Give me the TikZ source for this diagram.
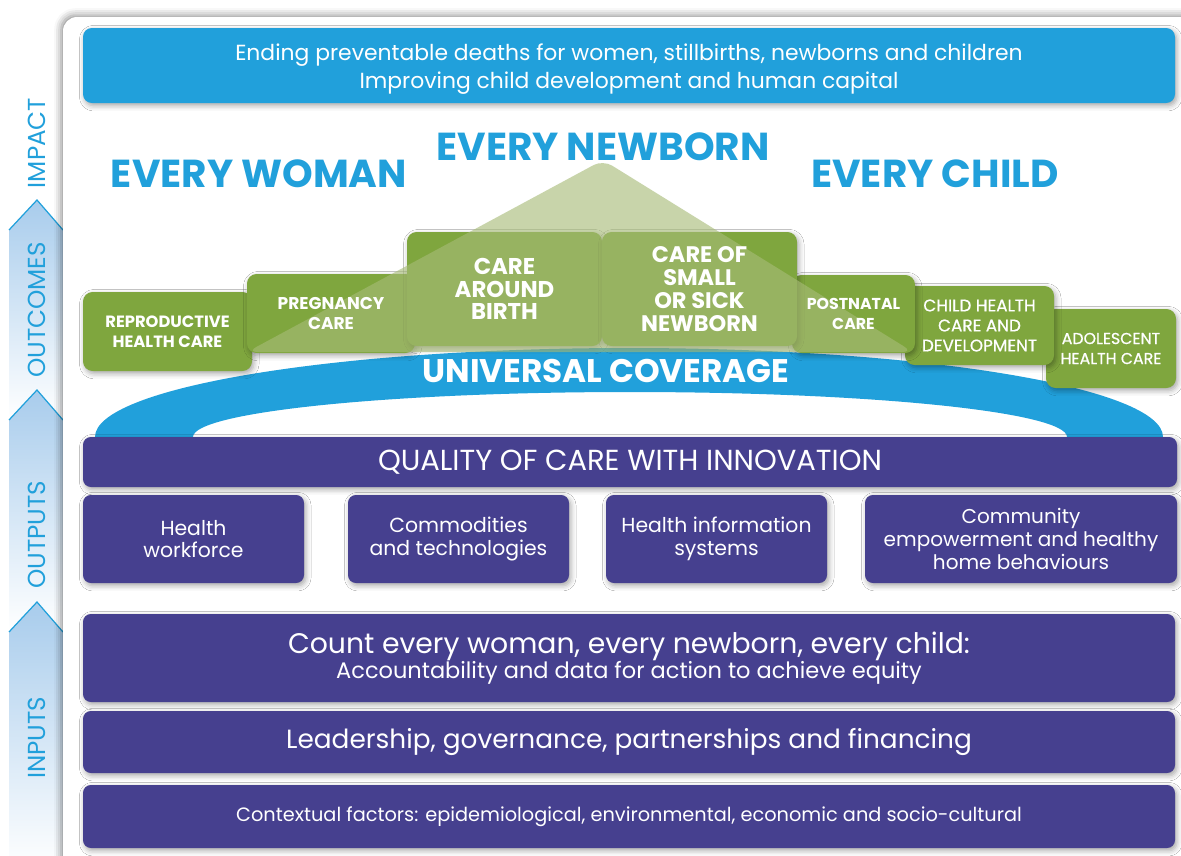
\documentclass[tikz,border=0pt]{standalone}
\usepackage{fontspec}
\setmainfont{Poppins}
\newfontfamily\mediumface{Poppins}[FakeBold=0.7]
\usetikzlibrary{fit,shadows.blur}

\definecolor{skyblue}{RGB}{33,160,219}
\definecolor{leafgreen}{RGB}{127,166,62}
\definecolor{paleleaf}{RGB}{167,187,119}
\definecolor{deepviolet}{RGB}{70,64,143}
\definecolor{bandblue}{RGB}{168,204,236}

\newcommand{\fsize}[2]{\fontsize{#1}{#2}\selectfont}

\begin{document}
\begin{tikzpicture}[x=0.02cm, y=-0.02cm,
    softshadow/.style={blur shadow={shadow xshift=1pt, shadow yshift=-1.5pt, shadow blur radius=3pt, shadow opacity=35}},
    greenbox/.style={fill=leafgreen, rounded corners=5.5pt, inner sep=0pt, softshadow},
    greenlabel/.style={text=white, align=center},
    violetbox/.style={fill=deepviolet, rounded corners=4.5pt, inner sep=0pt, softshadow},
    whitetext/.style={text=white, align=center, inner sep=0pt},
    heading/.style={text=skyblue, font=\bfseries\fsize{22.2}{26}},
    stage/.style={text=skyblue, rotate=90, font=\fsize{14}{16}}]
    \useasboundingbox (0,0) rectangle (1181,856);
    \clip (0,0) rectangle (1181,856);

    % stages on the left
    \foreach \ya/\yb in {200/420, 390/632, 602/870} {
        \shade[top color=bandblue, bottom color=white] (9,\ya+30) -- (37,\ya) -- (63,\ya+30) -- (63,\yb) -- (9,\yb) -- cycle;
        \draw[skyblue, line width=0.7pt] (9,\ya+30) -- (37,\ya) -- (63,\ya+30);
    }
    \node[stage] (impact) at (37,143) {IMPACT};
    \node[stage] (outcomes) at (37,310) {OUTCOMES};
    \node[stage] (outputs) at (37,535) {OUTPUTS};
    \node[stage] (inputs) at (37,738) {INPUTS};

    \fill[white, rounded corners=8pt, blur shadow={shadow xshift=-1pt, shadow yshift=1pt, shadow blur radius=4pt, shadow opacity=45}] (63,17) rectangle (1230,900);

    \node[fill=skyblue, rounded corners=5pt, inner sep=0pt, softshadow, fit={(83,28) (1175,103)}] (goal) {};
    \node[whitetext, font=\fsize{12.45}{16}, yshift=-2pt] (goaltext) at (goal)
        {Ending preventable deaths for women, stillbirths, newborns and children\\Improving child development and human capital};

    \node[heading] (woman) at (259,174) {EVERY WOMAN};
    \node[heading] (newborn) at (603,147) {EVERY NEWBORN};
    \node[heading] (child) at (935,174) {EVERY CHILD};

    % universal coverage band
    \begin{scope}
        \clip (0,0) rectangle (1181,437);
        \fill[skyblue, even odd rule] (629,437) ellipse [x radius=534, y radius=89] (630,437) ellipse [x radius=437, y radius=45];
    \end{scope}

    \node[greenbox, fit={(1046,309) (1176,388)}] (adolescent) {};
    \node[greenbox, fit={(905,286) (1054,365)}] (childcare) {};
    \node[greenbox, fit={(792,275) (915,353)}] (postnatal) {};
    \node[greenbox, fit={(83,292) (252,371)}] (reproductive) {};
    \node[greenbox, fit={(247,274) (415,353)}] (pregnancy) {};
    \node[greenbox, fit={(407,232) (602,346)}] (birth) {};
    \node[greenbox, fit={(602,232) (797,346)}] (smallsick) {};

    \fill[paleleaf, fill opacity=0.62, rounded corners=6pt] (247,352) -- (603,160) -- (913,352) -- cycle;

    \node[greenlabel, font=\bfseries\fsize{9.3}{11.4}] (reproductivetext) at (reproductive) {REPRODUCTIVE\\HEALTH CARE};
    \node[greenlabel, font=\bfseries\fsize{9.7}{11.4}] (pregnancytext) at (pregnancy) {PREGNANCY\\CARE};
    \node[greenlabel, font=\bfseries\fsize{13}{13}] (birthtext) at (birth) {CARE\\AROUND\\BIRTH};
    \node[greenlabel, font=\bfseries\fsize{12.8}{13}] (smallsicktext) at (smallsick) {CARE OF\\SMALL\\OR SICK\\NEWBORN};
    \node[greenlabel, font=\bfseries\fsize{9}{11.4}] (postnataltext) at (postnatal) {POSTNATAL\\CARE};
    \node[greenlabel, font=\mediumface\fsize{9.6}{11.4}] (childcaretext) at (childcare) {CHILD HEALTH\\CARE AND\\DEVELOPMENT};
    \node[greenlabel, font=\mediumface\fsize{9}{11.4}] (adolescenttext) at (adolescent) {ADOLESCENT\\HEALTH CARE};

    \node[text=white, font=\bfseries\fsize{18.6}{20}] (coverage) at (606,371) {UNIVERSAL COVERAGE};

    % outputs and inputs
    \node[violetbox, fit={(83,437) (1177,487)}] (quality) {};
    \node[violetbox, fit={(83,495) (304,583)}] (workforce) {};
    \node[violetbox, fit={(348,495) (569,583)}] (commodities) {};
    \node[violetbox, fit={(606,495) (827,583)}] (information) {};
    \node[violetbox, fit={(865,495) (1177,583)}] (community) {};
    \node[violetbox, fit={(83,614) (1175,702)}] (count) {};
    \node[violetbox, fit={(83,711) (1175,773)}] (leadership) {};
    \node[violetbox, fit={(83,785) (1175,848)}] (context) {};

    \node[whitetext, font=\fsize{16.5}{18}] (qualitytext) at (quality) {QUALITY OF CARE WITH INNOVATION};
    \node[whitetext, font=\fsize{11.6}{13}] (workforcetext) at (workforce) {Health\\workforce};
    \node[whitetext, font=\fsize{11.6}{13}] (commoditiestext) at (commodities) {Commodities\\and technologies};
    \node[whitetext, font=\fsize{11.6}{13}] (informationtext) at (information) {Health information\\systems};
    \node[whitetext, font=\fsize{11.4}{13}] (communitytext) at (community) {Community\\empowerment and healthy\\home behaviours};
    \node[whitetext] (counttext) at (count)
        {\fsize{16.1}{18}Count every woman, every newborn, every child:\\[-1pt] \fsize{12.8}{15}Accountability and data for action to achieve equity};
    \node[whitetext, font=\fsize{15}{16}] (leadershiptext) at (leadership) {Leadership, governance, partnerships and financing};
    \node[whitetext, font=\fsize{11}{12}] (contexttext) at (context) {Contextual factors: epidemiological, environmental, economic and socio-cultural};
\end{tikzpicture}
\end{document}
